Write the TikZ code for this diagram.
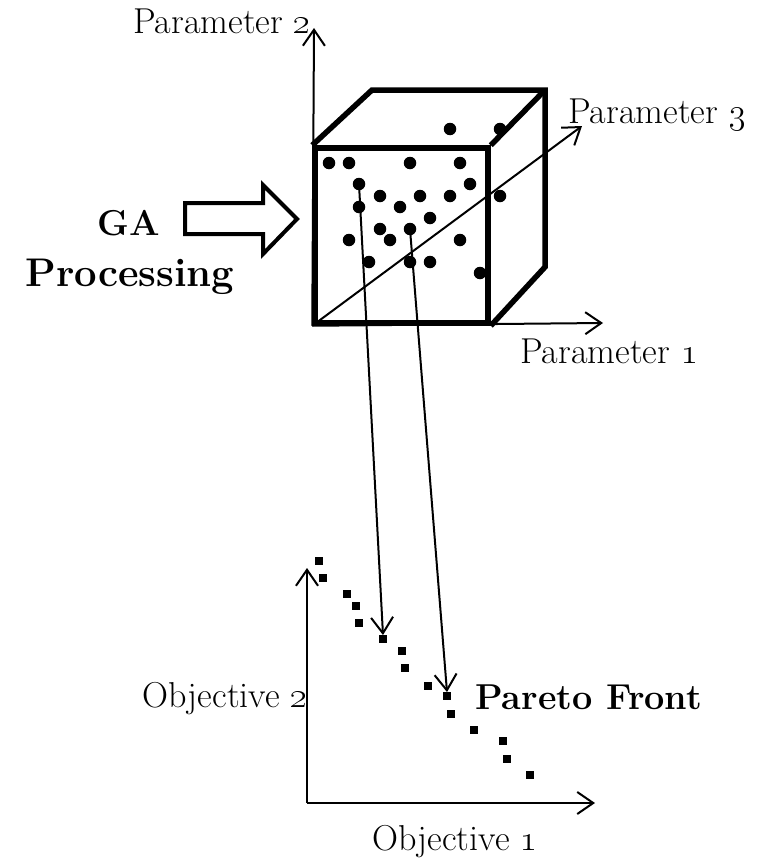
\RequirePackage{fix-cm}
\documentclass[tikz,border=0pt]{standalone}
\usetikzlibrary{arrows.meta}

\tikzset{
  dot/.style={circle, fill=black, inner sep=0pt, minimum size=12.5pt},
  sqpt/.style={rectangle, fill=black, inner sep=0pt, minimum size=7.5pt},
  lbl/.style={font=\fontsize{36}{40}\selectfont, inner sep=0pt},
  boldlbl/.style={font=\fontsize{36}{40}\selectfont\bfseries, inner sep=0pt},
  cubeedge/.style={line width=5.5pt, line join=miter},
  axisline/.style={->, line width=2pt},
  >={Straight Barb[length=16pt,width=22pt]}
}

\begin{document}
\begin{tikzpicture}[x=1pt, y=-1pt]
\useasboundingbox (0,0) rectangle (769,867);

\node[draw, cubeedge, inner sep=0pt, minimum width=173pt, minimum height=175pt] (front) at (401.5,235.5) {};
\draw[cubeedge] (front.north west) -- (372,90) -- (545,90) -- (545,267) -- (front.south east);
\draw[cubeedge] (545,90) -- (front.north east);

\foreach \x/\y [count=\i] in {329/163, 349/163, 410/163, 460/163, 450/129, 500/129, 359/184, 470/184, 380/196, 420/196, 450/196, 500/196, 359/207, 400/207, 430/218, 380/229, 410/229, 349/240, 390/240, 460/240, 369/262, 410/262, 430/262, 480/273}
  \node[dot] (d\i) at (\x,\y) {};

\coordinate (p2tip) at (314,28);
\coordinate (p1tip) at (603,323);
\coordinate (p3tip) at (582,126);
\draw[axisline] (front.south west) -- (p2tip);
\draw[axisline] (front.south west) -- (p1tip);
\draw[axisline] (front.south west) -- (p3tip);

\node[lbl, anchor=base] (par2) at (222,34) {Parameter \oldstylenums{2}};
\node[lbl, anchor=base west] (par3) at (568,123) {Parameter \oldstylenums{3}};
\node[lbl, anchor=base west] (par1) at (520,363) {Parameter \oldstylenums{1}};

\draw[line width=4pt, line join=miter] (185,203) -- (263,203) -- (263,185) -- (297,219) -- (263,254) -- (263,234) -- (185,234) -- cycle;
\node[boldlbl, anchor=base] (ga) at (129,235) {GA};
\node[boldlbl, font=\fontsize{40}{44}\selectfont\bfseries, anchor=base] (proc) at (130,286) {Processing};

\foreach \x/\y [count=\i] in {319/561, 323/578, 347/594, 356/606, 359/623, 383/639, 402/651, 405/668, 428/686, 447/696, 451/714, 474/730, 503/741, 507/759, 530/775}
  \node[sqpt] (p\i) at (\x,\y) {};

\coordinate (po) at (307,803);
\coordinate (o2tip) at (307,568);
\coordinate (o1tip) at (595,803);
\draw[axisline] (po) -- (o2tip);
\draw[axisline] (po) -- (o1tip);

\draw[axisline] (d7.center) -- (p6.north);
\draw[axisline] (d17.center) -- (p10.north);

\node[lbl, anchor=base east] (obj2) at (308,707) {Objective \oldstylenums{2}};
\node[boldlbl, anchor=base west] (pareto) at (475,709) {Pareto Front};
\node[lbl, anchor=base] (obj1) at (455,850) {Objective \oldstylenums{1}};

\end{tikzpicture}
\end{document}
